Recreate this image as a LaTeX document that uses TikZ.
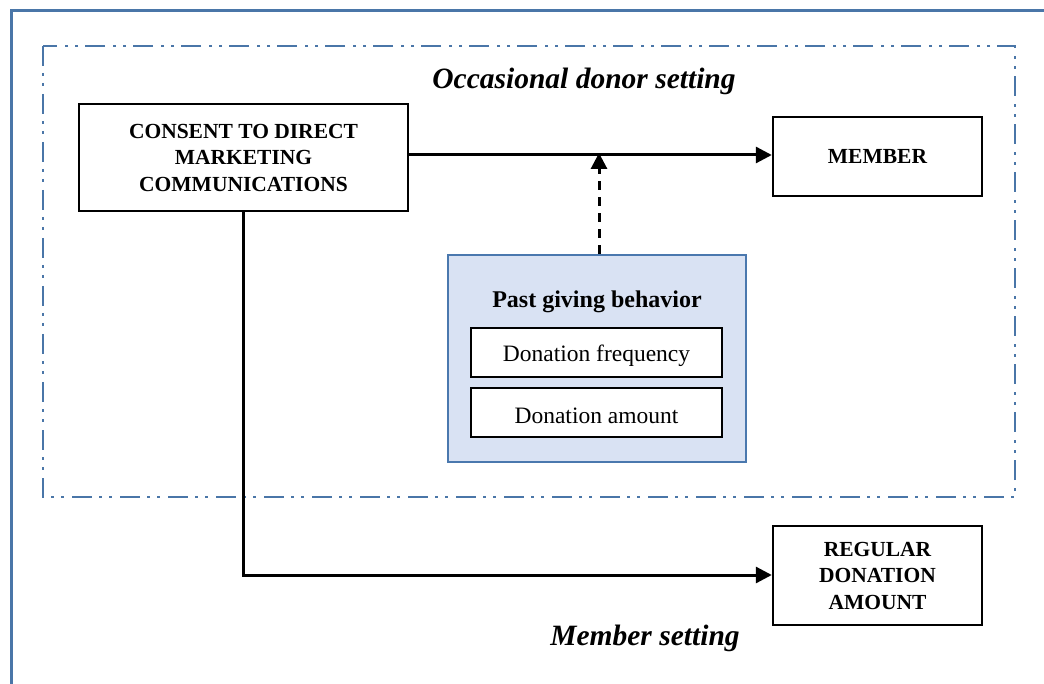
\documentclass[tikz,border=0pt]{standalone}
\usepackage{fontspec}
\setmainfont{Liberation Serif}
\usetikzlibrary{arrows.meta}
\definecolor{frameblue}{HTML}{4A76A8}
\definecolor{boxblue}{HTML}{4A78AE}
\definecolor{fillblue}{HTML}{D9E2F3}
\tikzset{
  capbox/.style={draw=black,line width=2.4pt,fill=white,align=center,inner sep=0pt,
    font=\fontsize{21.5}{26.5}\selectfont\bfseries},
  itembox/.style={draw=black,line width=2pt,fill=white,inner sep=0pt},
  itemtext/.style={inner sep=0pt,font=\fontsize{23.5}{28}\selectfont},
  groupbox/.style={draw=boxblue,line width=2.4pt,fill=fillblue,inner sep=0pt},
  conn/.style={line width=3pt,-{Triangle[length=16pt,width=16pt]}},
  dconn/.style={line width=3pt,dash pattern=on 9pt off 7pt,-{Triangle[length=16pt,width=16pt]}},
  settingtitle/.style={font=\fontsize{29.5}{34}\selectfont\bfseries\itshape},
}
\begin{document}
\begin{tikzpicture}[x=1pt,y=-1pt]
\useasboundingbox (0,0) rectangle (1044,684);
% outer frame
\draw[frameblue,line width=3pt] (11,690) -- (11,11) -- (1050,11);
% dash-dot-dot region
\draw[frameblue,line width=2.8pt,dash pattern=on 20pt off 7pt on 3pt off 7pt on 3pt off 8pt]
  (43,46) rectangle (1015,497);
\node[settingtitle] (occ) at (584,81) {Occasional donor setting};
\node[settingtitle] (mem) at (645,638) {Member setting};
% boxes
\node[capbox,minimum width=329pt,minimum height=107pt] (consent) at (243.5,157.5)
  {CONSENT TO DIRECT\\MARKETING\\COMMUNICATIONS};
\node[capbox,minimum width=209pt,minimum height=79pt] (member) at (877.5,156.5) {MEMBER};
\node[capbox,minimum width=209pt,minimum height=99pt] (regular) at (877.5,575.5)
  {REGULAR\\DONATION\\AMOUNT};
\node[groupbox,minimum width=298pt,minimum height=207pt] (past) at (597,358.5) {};
\node[font=\fontsize{24}{28}\selectfont\bfseries] (pasttitle) at (597,302) {Past giving behavior};
\node[itembox,minimum width=251pt,minimum height=49pt] (freq) at (596.5,352.5) {};
\node[itembox,minimum width=251pt,minimum height=49pt] (amount) at (596.5,412.5) {};
\node[itemtext] (freqtext) at ([yshift=-3pt]freq.center) {Donation frequency};
\node[itemtext] (amounttext) at ([yshift=-3pt]amount.center) {Donation amount};
% connectors
\coordinate (joint) at (599,155);
\draw[conn] (consent.east |- joint) -- (member.west |- joint);
\draw[dconn] (past.north -| joint) -- ([yshift=2pt]joint);
\coordinate (corner) at (243,575);
\draw[conn] (consent.south -| corner) -- (corner) -- (regular.west |- corner);
\end{tikzpicture}
\end{document}
